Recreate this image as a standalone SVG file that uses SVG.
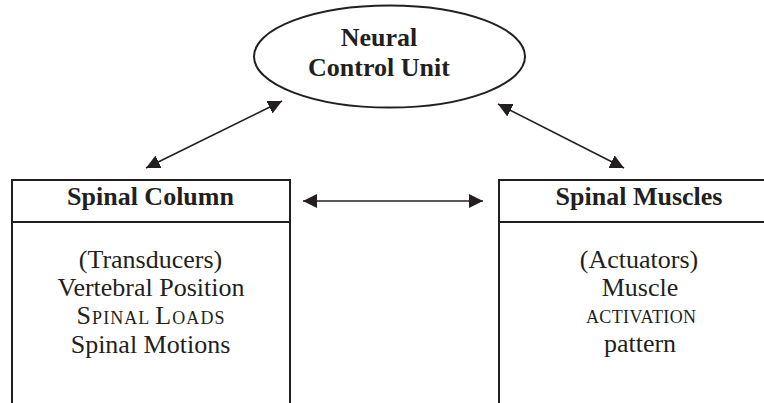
<svg xmlns="http://www.w3.org/2000/svg" width="764" height="403" viewBox="0 0 764 403">
<defs>
<style>
.shape{fill:#fff;stroke:#231f20;stroke-width:2}
.div{stroke:#231f20;stroke-width:2}
.t{font-family:"Liberation Serif","Times New Roman",serif;fill:#231f20;text-anchor:middle}
.b{font-weight:bold;font-size:26px}
.r{font-size:26px}
.sc{font-size:18px}
.conn{stroke:#231f20;stroke-width:1.6;fill:none;marker-start:url(#ah);marker-end:url(#ah)}
</style>
<marker id="ah" viewBox="0 0 12 12" refX="12" refY="6" markerWidth="14" markerHeight="14" markerUnits="userSpaceOnUse" orient="auto-start-reverse">
<path d="M0,0 L12,6 L0,12 z" fill="#231f20"/>
</marker>
</defs>
<rect width="764" height="403" fill="#fff"/>
<g id="neural">
<ellipse class="shape" cx="389.5" cy="56.5" rx="135.5" ry="51"/>
<text class="t b" x="379" y="46">Neural</text>
<text class="t b" x="379" y="76">Control Unit</text>
</g>
<g id="column">
<rect class="shape" x="12" y="180" width="278" height="240"/>
<line class="div" x1="12" y1="222" x2="290" y2="222"/>
<text class="t b" x="150.5" y="205">Spinal Column</text>
<text class="t r" x="150.5" y="268">(Transducers)</text>
<text class="t r" x="151" y="296">Vertebral Position</text>
<text class="t r" x="150.5" y="324" textLength="148" lengthAdjust="spacing">S<tspan class="sc">PINAL </tspan>L<tspan class="sc">OADS</tspan></text>
<text class="t r" x="150.5" y="353">Spinal Motions</text>
</g>
<g id="muscles">
<rect class="shape" x="499" y="180" width="280" height="240"/>
<line class="div" x1="499" y1="222" x2="779" y2="222"/>
<text class="t b" x="639" y="205">Spinal Muscles</text>
<text class="t r" x="639" y="268">(Actuators)</text>
<text class="t r" x="640" y="296">Muscle</text>
<text class="t sc" x="641" y="323" textLength="110" lengthAdjust="spacing">ACTIVATION</text>
<text class="t r" x="640" y="352">pattern</text>
</g>
<g id="connectors">
<line class="conn" x1="282" y1="101" x2="146" y2="168"/>
<line class="conn" x1="498" y1="104" x2="624" y2="168"/>
<line class="conn" x1="303" y1="201" x2="483" y2="201"/>
</g>
</svg>
